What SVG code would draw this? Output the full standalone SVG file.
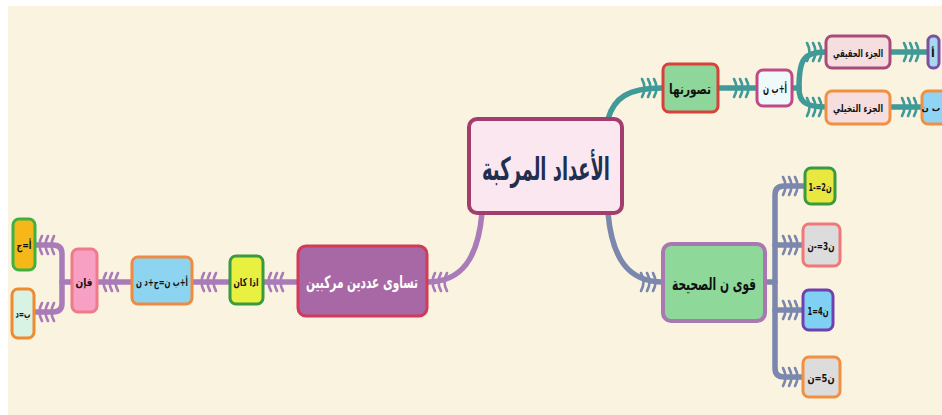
<svg xmlns="http://www.w3.org/2000/svg" xmlns:xlink="http://www.w3.org/1999/xlink" width="942" height="415" viewBox="0 0 942 415">
  <style>
    .node rect { stroke-width: 3; }
    .lbl { font-family: "DejaVu Sans", "Noto Sans", sans-serif; font-weight: bold; text-anchor: middle; direction: rtl; unicode-bidi: embed; fill: #111; }
    .wire { fill: none; stroke-width: 5.5; stroke-linecap: round; stroke-linejoin: round; }
    .teal { stroke: #3f9a98; }
    .slate { stroke: #7c87ae; }
    .plum { stroke: #a97bb9; }
    .tick { fill: none; stroke-width: 2.6; stroke-linecap: round; }
  </style>
  <defs>
    <!-- three feather strokes that sit across a connector -->
    <g id="fb">
      <path d="M-6,-9 Q-1,0 -6,9"/>
      <path d="M0,-9 Q5,0 0,9"/>
      <path d="M6,-9 Q11,0 6,9"/>
    </g>
  </defs>

  <!-- canvas -->
  <rect x="0" y="0" width="942" height="415" fill="#ffffff"/>
  <rect x="8" y="6" width="934" height="409" fill="#f9f3df"/>

  <!-- connectors -->
  <g id="connectors">
    <!-- upper branch -->
    <path class="wire teal" d="M608,119 C614,98 628,88 662,88"/>
    <g class="tick teal"><use xlink:href="#fb" x="648" y="88"/></g>
    <path class="wire teal" d="M718,88 L757,88"/>
    <g class="tick teal"><use xlink:href="#fb" x="740" y="88"/></g>
    <path class="wire teal" d="M792,88 L799,88"/>
    <path class="wire teal" d="M799,88 C799,60 803,52 826,52"/>
    <path class="wire teal" d="M799,88 C799,100 803,107 826,107"/>
    <g class="tick teal"><use xlink:href="#fb" x="813" y="52"/><use xlink:href="#fb" x="813" y="107"/></g>
    <path class="wire teal" d="M890,52 L928,52"/>
    <g class="tick teal"><use xlink:href="#fb" x="910" y="52"/></g>
    <path class="wire teal" d="M890,107 L922,107"/>
    <g class="tick teal"><use xlink:href="#fb" x="908" y="107"/></g>

    <!-- lower right branch -->
    <path class="wire slate" d="M608,213 C612,258 628,282 663,282"/>
    <g class="tick slate"><use xlink:href="#fb" x="647" y="282"/></g>
    <path class="wire slate" d="M765,282 L775,282"/>
    <path class="wire slate" d="M803,186 L784,186 Q775,186 775,195 L775,368 Q775,377 784,377 L803,377"/>
    <path class="wire slate" d="M775,245 L803,245 M775,310 L803,310"/>
    <g class="tick slate">
      <use xlink:href="#fb" x="789" y="186"/><use xlink:href="#fb" x="789" y="245"/>
      <use xlink:href="#fb" x="789" y="310"/><use xlink:href="#fb" x="789" y="377"/>
    </g>

    <!-- left branch -->
    <path class="wire plum" d="M482,213 C478,258 462,282 427,282"/>
    <g class="tick plum" transform="translate(441,282) scale(-1,1)"><use xlink:href="#fb"/></g>
    <path class="wire plum" d="M298,282 L263,282"/>
    <g class="tick plum" transform="translate(277,282) scale(-1,1)"><use xlink:href="#fb"/></g>
    <path class="wire plum" d="M230,282 L192,282"/>
    <g class="tick plum" transform="translate(210,282) scale(-1,1)"><use xlink:href="#fb"/></g>
    <path class="wire plum" d="M132,282 L97,282"/>
    <g class="tick plum" transform="translate(112,282) scale(-1,1)"><use xlink:href="#fb"/></g>
    <path class="wire plum" d="M72,282 L62,282"/>
    <path class="wire plum" d="M35,245 L53,245 Q62,245 62,254 L62,303 Q62,312 53,312 L34,312"/>
    <g class="tick plum" transform="translate(48,245) scale(-1,1)"><use xlink:href="#fb"/></g>
    <g class="tick plum" transform="translate(48,312) scale(-1,1)"><use xlink:href="#fb"/></g>
  </g>

  <!-- central topic -->
  <g id="n-root" class="node">
    <rect x="469" y="119" width="153" height="94" rx="8" fill="#fbe7ef" stroke="#a23d6e" style="stroke-width:4"/>
    <text class="lbl" x="546" y="180" font-size="32" textLength="128" lengthAdjust="spacingAndGlyphs" style="fill:#1f2f4f">الأعداد المركبة</text>
  </g>

  <!-- upper branch nodes -->
  <g id="n-tasawur" class="node">
    <rect x="663" y="64" width="55" height="48" rx="6" fill="#8fd69a" stroke="#d8403a"/>
    <text class="lbl" x="690" y="94" font-size="14" textLength="42" lengthAdjust="spacingAndGlyphs">تصورنها</text>
  </g>
  <g id="n-form" class="node">
    <rect x="757" y="70" width="35" height="36" rx="6" fill="#eefafa" stroke="#c04a88"/>
    <text class="lbl" x="775" y="93" font-size="12" textLength="24" lengthAdjust="spacingAndGlyphs">أ+ب ن</text>
  </g>
  <g id="n-real" class="node">
    <rect x="826" y="36" width="64" height="32" rx="6" fill="#f6dede" stroke="#a84a7a"/>
    <text class="lbl" x="858" y="57" font-size="11" textLength="50" lengthAdjust="spacingAndGlyphs">الجزء الحقيقي</text>
  </g>
  <g id="n-imag" class="node">
    <rect x="826" y="91" width="64" height="33" rx="6" fill="#f6dede" stroke="#f09040"/>
    <text class="lbl" x="858" y="112" font-size="11" textLength="50" lengthAdjust="spacingAndGlyphs">الجزء التخيلي</text>
  </g>
  <g id="n-a" class="node">
    <rect x="928" y="36" width="11" height="32" rx="5" fill="#a8d8f0" stroke="#7a50a0"/>
    <text class="lbl" x="933" y="57" font-size="11">أ</text>
  </g>
  <g id="n-bn" class="node">
    <rect x="922" y="91" width="30" height="33" rx="6" fill="#8fd4f4" stroke="#f09040"/>
    <text class="lbl" x="931" y="111" font-size="8.5">ب ن</text>
  </g>

  <!-- lower right branch nodes -->
  <g id="n-powers" class="node">
    <rect x="663" y="244" width="102" height="77" rx="8" fill="#8ed89a" stroke="#a878b0" style="stroke-width:4"/>
    <text class="lbl" x="714" y="290" font-size="17" textLength="84" lengthAdjust="spacingAndGlyphs">قوى ن الصحيحة</text>
  </g>
  <g id="n-p2" class="node">
    <rect x="805" y="168" width="30" height="36" rx="6" fill="#e8e840" stroke="#3a9a40"/>
    <text class="lbl" x="820" y="191" font-size="11" textLength="23" lengthAdjust="spacingAndGlyphs">ن2=-1</text>
  </g>
  <g id="n-p3" class="node">
    <rect x="803" y="224" width="37" height="42" rx="6" fill="#dcdcdc" stroke="#f07878"/>
    <text class="lbl" x="821" y="250" font-size="11" textLength="27" lengthAdjust="spacingAndGlyphs">ن3=-ن</text>
  </g>
  <g id="n-p4" class="node">
    <rect x="803" y="290" width="30" height="40" rx="6" fill="#80d0f4" stroke="#7040b0"/>
    <text class="lbl" x="818" y="315" font-size="11" textLength="21" lengthAdjust="spacingAndGlyphs">ن4=1</text>
  </g>
  <g id="n-p5" class="node">
    <rect x="803" y="357" width="37" height="40" rx="6" fill="#dcdcdc" stroke="#f09040"/>
    <text class="lbl" x="821" y="382" font-size="11" textLength="27" lengthAdjust="spacingAndGlyphs">ن5=ن</text>
  </g>

  <!-- left branch nodes -->
  <g id="n-equal" class="node">
    <rect x="298" y="246" width="129" height="70" rx="8" fill="#a868a6" stroke="#d23a5a"/>
    <text class="lbl" x="362" y="288" font-size="17" textLength="112" lengthAdjust="spacingAndGlyphs" style="fill:#ffffff">تساوى عددين مركبين</text>
  </g>
  <g id="n-if" class="node">
    <rect x="230" y="256" width="33" height="48" rx="6" fill="#e8f040" stroke="#3a9a40"/>
    <text class="lbl" x="246" y="286" font-size="11" textLength="25" lengthAdjust="spacingAndGlyphs">اذا كان</text>
  </g>
  <g id="n-eq" class="node">
    <rect x="132" y="257" width="60" height="47" rx="6" fill="#8cd4f0" stroke="#f08a40"/>
    <text class="lbl" x="162" y="286" font-size="11" textLength="52" lengthAdjust="spacingAndGlyphs">أ+ب ن=ج+د ن</text>
  </g>
  <g id="n-then" class="node">
    <rect x="72" y="249" width="25" height="63" rx="6" fill="#f8a0c4" stroke="#f07a8a"/>
    <text class="lbl" x="84" y="286" font-size="11" textLength="17" lengthAdjust="spacingAndGlyphs">فإن</text>
  </g>
  <g id="n-ac" class="node">
    <rect x="13" y="219" width="22" height="51" rx="6" fill="#f5b818" stroke="#40b040"/>
    <text class="lbl" x="24" y="249" font-size="11" textLength="15" lengthAdjust="spacingAndGlyphs">أ=ج</text>
  </g>
  <g id="n-bd" class="node">
    <rect x="12" y="289" width="22" height="49" rx="6" fill="#d8f2e4" stroke="#f08a30"/>
    <text class="lbl" x="23" y="318" font-size="11" textLength="15" lengthAdjust="spacingAndGlyphs">ب=د</text>
  </g>
</svg>
